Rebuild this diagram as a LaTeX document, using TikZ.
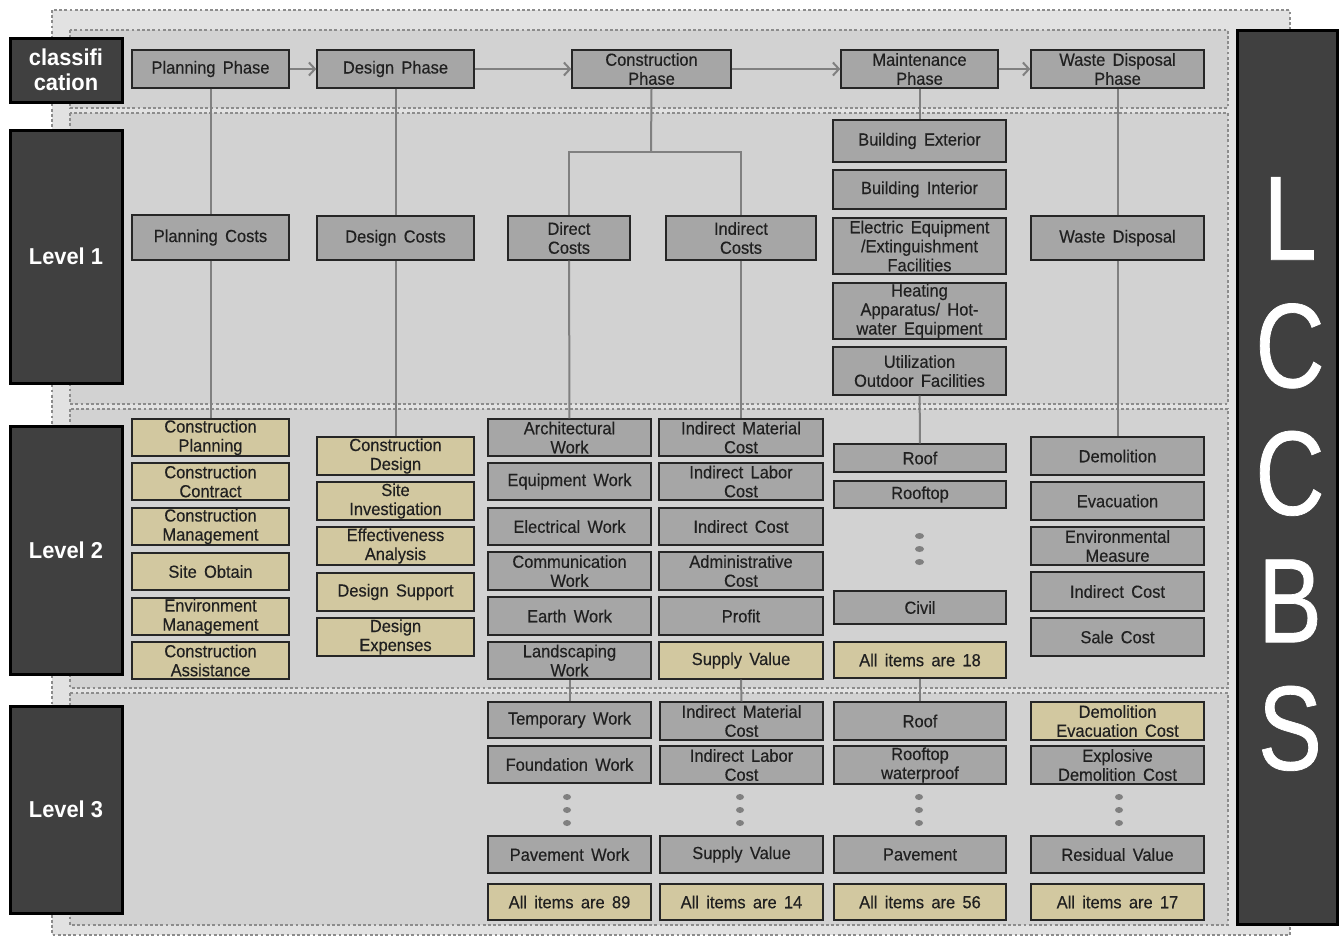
\documentclass[tikz,border=0pt]{standalone}
\usepackage{fontspec}
\setmainfont{Liberation Sans}[FakeStretch=0.94,WordSpace=1.6,FakeBold=0.35]
\newfontfamily\bigfont{Liberation Sans}[FakeStretch=0.8,FakeBold=0.6]
\newfontfamily\labfont{Liberation Sans}[FakeStretch=0.95]
\usetikzlibrary{arrows.meta}
\definecolor{boxgray}{HTML}{A6A6A6}
\definecolor{boxtan}{HTML}{D2C8A0}
\definecolor{darkbox}{HTML}{404040}
\definecolor{bandc}{HTML}{E2E2E2}
\definecolor{innerc}{HTML}{D2D2D2}
\definecolor{dotc}{HTML}{8C8C8C}
\definecolor{linec}{HTML}{808080}
\definecolor{textc}{HTML}{202020}
\newcommand\mkbox[7]{%
  \pgfmathsetmacro\mbw{#4-#3}\pgfmathsetmacro\mbh{#6-#5}%
  \pgfmathsetmacro\mbx{(#3+#4)/2}\pgfmathsetmacro\mby{(#5+#6)/2}%
  \node[#1, minimum width=\mbw pt, minimum height=\mbh pt] (#2) at (\mbx,\mby) {#7};}
\tikzset{
  base/.style={rectangle, draw=black!85, line width=1.4pt, text=textc, align=center,
    inner sep=0pt, font=\fontsize{17.5}{19}\selectfont},
  gbox/.style={base, fill=boxgray},
  tbox/.style={base, fill=boxtan},
  dark/.style={rectangle, draw=black, line width=3pt, fill=darkbox, text=white, align=center,
    inner sep=0pt, font=\labfont\bfseries\fontsize{23}{25}\selectfont},
  row/.style={draw=dotc, fill=innerc, line width=2.8pt, dash pattern=on 2.8pt off 2.4pt},
  conn/.style={draw=linec, line width=2pt},
  arr/.style={conn, -{Straight Barb[length=6pt,width=13pt,line width=2pt]}},
  ell/.style={fill=linec}
}
\begin{document}
\begin{tikzpicture}[x=1pt,y=-1pt]
\useasboundingbox (0,0) rectangle (1339,940);
\fill[white] (0,0) rectangle (1339,940);
% outer band
\fill[bandc] (52,10) rectangle (1290,935);
\draw[draw=dotc, line width=2.8pt, dash pattern=on 2.8pt off 2.4pt] (52,10) rectangle (1290,935);
% rows
\draw[row] (70,30) rectangle (1228,108);
\draw[row] (70,113) rectangle (1228,404);
\draw[row] (70,409) rectangle (1228,688);
\draw[row] (70,693) rectangle (1228,925);
% left labels
\mkbox{dark}{lab0}{10}{122}{38}{102}{classifi\\cation}
\mkbox{dark}{lab1}{10}{122}{130}{383}{Level 1}
\mkbox{dark}{lab2}{10}{122}{426}{674}{Level 2}
\mkbox{dark}{lab3}{10}{122}{706}{913}{Level 3}
% right label
\node[rectangle, draw=black, line width=3pt, fill=darkbox, minimum width=100pt, minimum height=894pt, inner sep=0pt] (lccbsbox) at (1287,477) {};
\node[text=white, align=center, inner sep=0pt, font=\bigfont\fontsize{120}{127.5}\selectfont] (lccbs) at (1290,474) {L\\C\\C\\B\\S};
% phases
\mkbox{gbox}{p1}{132}{289}{50}{88}{Planning  Phase}
\mkbox{gbox}{p2}{317}{474}{50}{88}{Design  Phase}
\mkbox{gbox}{p3}{572}{731}{50}{88}{Construction\\Phase}
\mkbox{gbox}{p4}{841}{998}{50}{88}{Maintenance\\Phase}
\mkbox{gbox}{p5}{1031}{1204}{50}{88}{Waste  Disposal\\Phase}
\draw[arr] (p1) -- (p2);
\draw[arr] (p2) -- (p3);
\draw[arr] (p3) -- (p4);
\draw[arr] (p4) -- (p5);
% level 1
\mkbox{gbox}{la}{132}{289}{215}{260}{Planning  Costs}
\mkbox{gbox}{lb}{317}{474}{216}{260}{Design  Costs}
\mkbox{gbox}{lc}{508}{630}{216}{260}{Direct\\Costs}
\mkbox{gbox}{ld}{666}{816}{216}{260}{Indirect\\Costs}
\mkbox{gbox}{m1}{833}{1006}{120}{162}{Building  Exterior}
\mkbox{gbox}{m2}{833}{1006}{170}{209}{Building  Interior}
\mkbox{gbox}{m3}{833}{1006}{218}{274}{Electric  Equipment\\/Extinguishment\\Facilities}
\mkbox{gbox}{m4}{833}{1006}{283}{339}{Heating\\Apparatus/  Hot-\\water  Equipment}
\mkbox{gbox}{m5}{833}{1006}{347}{395}{Utilization\\Outdoor  Facilities}
\mkbox{gbox}{lw}{1031}{1204}{216}{260}{Waste  Disposal}
% level 2 col1
\mkbox{tbox}{a1}{132}{289}{419}{456}{Construction\\Planning}
\mkbox{tbox}{a2}{132}{289}{463}{500}{Construction\\Contract}
\mkbox{tbox}{a3}{132}{289}{508}{545}{Construction\\Management}
\mkbox{tbox}{a4}{132}{289}{553}{590}{Site  Obtain}
\mkbox{tbox}{a5}{132}{289}{598}{635}{Environment\\Management}
\mkbox{tbox}{a6}{132}{289}{642}{679}{Construction\\Assistance}
% col2
\mkbox{tbox}{b1}{317}{474}{437}{475}{Construction\\Design}
\mkbox{tbox}{b2}{317}{474}{482}{520}{Site\\Investigation}
\mkbox{tbox}{b3}{317}{474}{527}{565}{Effectiveness\\Analysis}
\mkbox{tbox}{b4}{317}{474}{573}{611}{Design  Support}
\mkbox{tbox}{b5}{317}{474}{618}{656}{Design\\Expenses}
% col3
\mkbox{gbox}{c1}{488}{651}{419}{456}{Architectural\\Work}
\mkbox{gbox}{c2}{488}{651}{463}{500}{Equipment  Work}
\mkbox{gbox}{c3}{488}{651}{508}{545}{Electrical  Work}
\mkbox{gbox}{c4}{488}{651}{552}{590}{Communication\\Work}
\mkbox{gbox}{c5}{488}{651}{597}{635}{Earth  Work}
\mkbox{gbox}{c6}{488}{651}{642}{679}{Landscaping\\Work}
% col4
\mkbox{gbox}{d1}{659}{823}{419}{456}{Indirect  Material\\Cost}
\mkbox{gbox}{d2}{659}{823}{463}{500}{Indirect  Labor\\Cost}
\mkbox{gbox}{d3}{659}{823}{508}{545}{Indirect  Cost}
\mkbox{gbox}{d4}{659}{823}{552}{590}{Administrative\\Cost}
\mkbox{gbox}{d5}{659}{823}{597}{635}{Profit}
\mkbox{tbox}{d6}{659}{823}{642}{679}{Supply  Value}
% col5
\mkbox{gbox}{e1}{834}{1006}{444}{472}{Roof}
\mkbox{gbox}{e2}{834}{1006}{481}{508}{Rooftop}
\mkbox{gbox}{e3}{834}{1006}{591}{624}{Civil}
\mkbox{tbox}{e4}{834}{1006}{642}{678}{All  items  are  18}
% col6
\mkbox{gbox}{f1}{1031}{1204}{437}{475}{Demolition}
\mkbox{gbox}{f2}{1031}{1204}{482}{520}{Evacuation}
\mkbox{gbox}{f3}{1031}{1204}{527}{565}{Environmental\\Measure}
\mkbox{gbox}{f4}{1031}{1204}{572}{611}{Indirect  Cost}
\mkbox{gbox}{f5}{1031}{1204}{618}{656}{Sale  Cost}
% level 3
\mkbox{gbox}{g1}{488}{651}{702}{738}{Temporary  Work}
\mkbox{gbox}{g2}{488}{651}{746}{783}{Foundation  Work}
\mkbox{gbox}{g3}{488}{651}{836}{873}{Pavement  Work}
\mkbox{tbox}{g4}{488}{651}{884}{920}{All  items  are  89}
\mkbox{gbox}{h1}{660}{823}{702}{740}{Indirect  Material\\Cost}
\mkbox{gbox}{h2}{660}{823}{746}{784}{Indirect  Labor\\Cost}
\mkbox{gbox}{h3}{660}{823}{836}{873}{Supply  Value}
\mkbox{tbox}{h4}{660}{823}{884}{920}{All  items  are  14}
\mkbox{gbox}{i1}{834}{1006}{702}{740}{Roof}
\mkbox{gbox}{i2}{834}{1006}{746}{784}{Rooftop\\waterproof}
\mkbox{gbox}{i3}{834}{1006}{836}{873}{Pavement}
\mkbox{tbox}{i4}{834}{1006}{884}{920}{All  items  are  56}
\mkbox{tbox}{j1}{1031}{1204}{702}{740}{Demolition\\Evacuation  Cost}
\mkbox{gbox}{j2}{1031}{1204}{746}{784}{Explosive\\Demolition  Cost}
\mkbox{gbox}{j3}{1031}{1204}{836}{873}{Residual  Value}
\mkbox{tbox}{j4}{1031}{1204}{884}{920}{All  items  are  17}
% connectors
\draw[conn] (p1) -- (la);
\draw[conn] (la) -- (a1);
\draw[conn] (p2) -- (lb);
\draw[conn] (lb) -- (b1);
\coordinate (split) at (651,152);
\draw[conn] (p3.south) -- (split);
\draw[conn] (split) -| (lc.north);
\draw[conn] (split) -| (ld.north);
\draw[conn] (lc) -- (c1);
\draw[conn] (ld) -- (d1);
\draw[conn] (p4) -- (m1);
\draw[conn] (m5) -- (e1);
\draw[conn] (p5) -- (lw);
\draw[conn] (lw) -- (f1);
\draw[conn] (c6.south) -- (g1.north);
\draw[conn] (d6.south) -- (h1.north);
\draw[conn] (e4.south) -- (i1.north);
% ellipsis dots
\foreach \yy in {536,549,562} \fill[ell] (919.5,\yy) ellipse (4.5pt and 3pt);
\foreach \xx in {567,740,919,1119} \foreach \yy in {797,810,823} \fill[ell] (\xx,\yy) ellipse (4pt and 3pt);
\end{tikzpicture}
\end{document}
